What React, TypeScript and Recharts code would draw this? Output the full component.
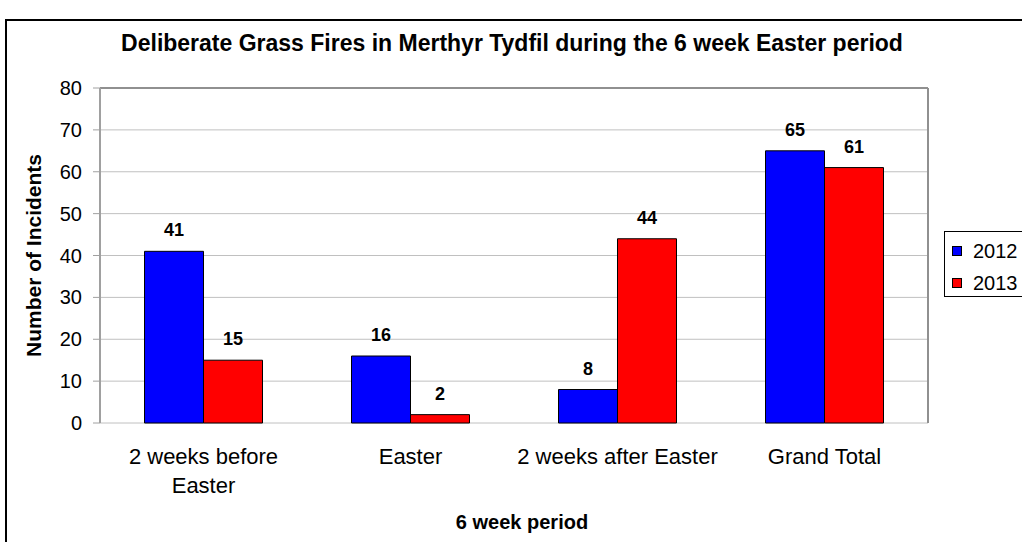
import { BarChart, Bar, XAxis, YAxis, CartesianGrid, LabelList, Legend, ReferenceLine } from 'recharts';

const periods = ['2 weeks before\nEaster', 'Easter', '2 weeks after Easter', 'Grand Total'];
const fires2012 = [41, 16, 8, 65];
const fires2013 = [15, 2, 44, 61];
const yTicks = [0, 10, 20, 30, 40, 50, 60, 70, 80];
const boundaryTicks = [0, 1, 2, 3, 4];

const series = [
  { key: 'y2012', name: '2012', color: '#0000ff' },
  { key: 'y2013', name: '2013', color: '#ff0000' },
];

const data = periods.map((p, i) => ({ period: p, y2012: fires2012[i], y2013: fires2013[i] }));

const font = '"Liberation Sans", Arial, sans-serif';

// category labels, broken onto two lines where the label has a line break
const CategoryTick = (props: any) => {
  const { x, y, payload } = props;
  const lines = String(payload.value).split('\n');
  return (
    <text x={x} y={y + 41} textAnchor="middle" fontSize={22} fontFamily={font} fill="#000">
      {lines.map((line, i) => (
        <tspan key={i} x={x} dy={i === 0 ? 0 : 29}>
          {line}
        </tspan>
      ))}
    </text>
  );
};

const LegendBox = () => (
  <div
    style={{
      border: '1px solid #000',
      background: '#fff',
      width: 100,
      height: 66,
      boxSizing: 'border-box',
      fontFamily: font,
      fontSize: 20,
      paddingTop: 3,
    }}
  >
    {series.map((s) => (
      <div key={s.key} style={{ display: 'flex', alignItems: 'center', height: 32 }}>
        <span
          style={{
            display: 'inline-block',
            width: 8,
            height: 8,
            background: s.color,
            border: '1px solid #000',
            marginLeft: 7,
            marginRight: 11,
          }}
        />
        <span>{s.name}</span>
      </div>
    ))}
  </div>
);

export default function App() {
  return (
    <div
      style={{
        position: 'absolute',
        left: 0,
        top: 0,
        width: 1022,
        height: 542,
        overflow: 'hidden',
        background: '#fff',
        fontFamily: font,
      }}
    >
      {/* outer chart border, runs off the right and bottom */}
      <div
        style={{
          position: 'absolute',
          left: 5,
          top: 19,
          width: 1100,
          height: 600,
          border: '2px solid #000',
        }}
      />
      <div
        style={{
          position: 'absolute',
          left: 0,
          width: 1024,
          top: 29,
          textAlign: 'center',
          fontWeight: 'bold',
          fontSize: 23,
          lineHeight: '28px',
        }}
      >
        Deliberate Grass Fires in Merthyr Tydfil during the 6 week Easter period
      </div>
      <BarChart
        width={1022}
        height={542}
        data={data}
        margin={{ top: 88, right: 93, left: 0, bottom: 0 }}
        barCategoryGap="21.5%"
        barGap={0}
        style={{ position: 'absolute', left: 0, top: 0 }}
      >
        <CartesianGrid vertical={false} stroke="#c0c0c0" strokeWidth={1} />
        <XAxis
          xAxisId="b"
          type="number"
          domain={[0, 4]}
          ticks={boundaryTicks}
          height={0}
          tickSize={7}
          tickFormatter={() => ''}
          axisLine={{ stroke: '#606060', strokeWidth: 2 }}
          tickLine={{ stroke: '#606060', strokeWidth: 1.5 }}
        />
        <XAxis
          xAxisId="cat"
          dataKey="period"
          height={119}
          axisLine={false}
          tickLine={false}
          tickSize={0}
          tickMargin={0}
          interval={0}
          tick={<CategoryTick />}
          label={{
            value: '6 week period',
            position: 'insideBottom',
            offset: 13,
            dx: 8,
            style: { fontSize: 20, fontWeight: 'bold', fill: '#000', fontFamily: font },
          }}
        />
        <YAxis
          domain={[0, 80]}
          ticks={yTicks}
          width={100}
          tickSize={7}
          tickMargin={11}
          axisLine={{ stroke: '#a0a0a0', strokeWidth: 2 }}
          tickLine={{ stroke: '#a0a0a0', strokeWidth: 1 }}
          tick={{ fontSize: 20, fill: '#000', fontFamily: font }}
          label={{
            value: 'Number of Incidents',
            angle: -90,
            position: 'insideLeft',
            offset: 34,
            style: { fontSize: 21, fontWeight: 'bold', fill: '#000', fontFamily: font, textAnchor: 'middle' },
          }}
        />
        <YAxis
          yAxisId="r"
          orientation="right"
          width={1}
          domain={[0, 80]}
          tick={false}
          tickLine={false}
          axisLine={{ stroke: '#909090', strokeWidth: 2 }}
        />
        <ReferenceLine y={80} stroke="#909090" strokeWidth={2} />
        <Legend
          layout="horizontal"
          verticalAlign="middle"
          align="center"
          content={<LegendBox />}
          wrapperStyle={{ left: 944, top: 231, width: 100, height: 66 }}
        />
        {series.map((s) => (
          <Bar
            key={s.key}
            xAxisId="cat"
            dataKey={s.key}
            name={s.name}
            fill={s.color}
            stroke="#000"
            strokeWidth={1}
            isAnimationActive={false}
          >
            <LabelList
              dataKey={s.key}
              position="top"
              offset={15}
              style={{ fontSize: 18, fontWeight: 'bold', fill: '#000', fontFamily: font }}
            />
          </Bar>
        ))}
      </BarChart>
    </div>
  );
}
